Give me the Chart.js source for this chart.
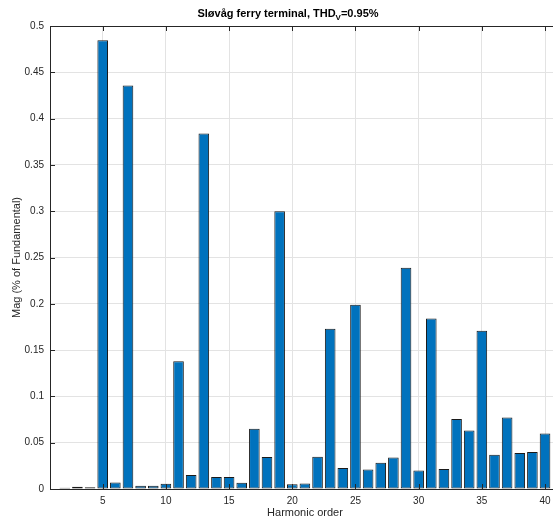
<!DOCTYPE html>
<html>
<head>
<meta charset="utf-8">
<title>Sløvåg ferry terminal</title>
<script src="https://cdn.jsdelivr.net/npm/chart.js@4/dist/chart.umd.min.js"></script>
<style>
  html, body { margin: 0; padding: 0; background: #fff; overflow: hidden; }
  #wrap { width: 553px; height: 524px; }
</style>
</head>
<body>
<div id="wrap"><canvas id="graficoHarm" width="553" height="524"></canvas></div>
<script>
// harmonic orders 2..40 and magnitude in % of fundamental
const ordens = [2, 3, 4, 5, 6, 7, 8, 9, 10, 11, 12, 13, 14, 15, 16, 17, 18, 19, 20, 21,
  22, 23, 24, 25, 26, 27, 28, 29, 30, 31, 32, 33, 34, 35, 36, 37, 38, 39, 40];
const magnitudes = [0.0014, 0.0025, 0.002, 0.4847, 0.0071, 0.4358, 0.0036, 0.0036, 0.0057, 0.138,
  0.0151, 0.384, 0.0129, 0.0129, 0.0068, 0.065, 0.0345, 0.300, 0.005, 0.006,
  0.0348, 0.173, 0.0227, 0.199, 0.0211, 0.0284, 0.0341, 0.239, 0.0201, 0.184,
  0.0216, 0.0755, 0.0632, 0.171, 0.037, 0.0772, 0.0388, 0.0399, 0.060];
const ticksX = [5, 10, 15, 20, 25, 30, 35, 40];
const ticksY = [0, 0.05, 0.1, 0.15, 0.2, 0.25, 0.3, 0.35, 0.4, 0.45, 0.5];

const titulo = "Sløvåg ferry terminal, THD";
const tituloSub = "V";
const tituloFim = "=0.95%";
const rotuloX = "Harmonic order";
const rotuloY = "Mag (% of Fundamental)";

const corEixo = '#262626';
const fonte = '"Liberation Sans", Arial, Helvetica, sans-serif';

// axis box, inward ticks and the text around the axes (MATLAB look)
const eixosMatlab = {
  id: 'eixosMatlab',
  afterDatasetsDraw(chart) {
    const { ctx, chartArea: a, scales } = chart;
    const tam = 5;
    ctx.save();
    ctx.strokeStyle = corEixo;
    ctx.lineWidth = 1;
    ctx.beginPath();
    // box lines: left, bottom, top
    ctx.moveTo(a.left + 0.5, a.top + 0.5);
    ctx.lineTo(a.left + 0.5, a.bottom + 0.5);
    ctx.lineTo(a.right, a.bottom + 0.5);
    ctx.moveTo(a.left + 0.5, a.top + 0.5);
    ctx.lineTo(a.right, a.top + 0.5);
    ticksX.forEach(v => {
      const px = Math.round(scales.x.getPixelForValue(v)) + 0.5;
      ctx.moveTo(px, a.bottom);
      ctx.lineTo(px, a.bottom - tam);
      ctx.moveTo(px, a.top);
      ctx.lineTo(px, a.top + tam);
    });
    ticksY.forEach(v => {
      const py = Math.round(scales.y.getPixelForValue(v)) + 0.5;
      ctx.moveTo(a.left, py);
      ctx.lineTo(a.left + tam, py);
    });
    ctx.stroke();
    ctx.restore();
  },
  afterDraw(chart) {
    const { ctx, chartArea: a } = chart;
    ctx.save();
    ctx.fillStyle = '#000';
    ctx.textBaseline = 'alphabetic';

    // title with subscript V
    const fTit = 'bold 11px ' + fonte;
    const fSub = 'bold 8px ' + fonte;
    ctx.font = fTit;
    const w1 = ctx.measureText(titulo).width;
    const w3 = ctx.measureText(tituloFim).width;
    ctx.font = fSub;
    const w2 = ctx.measureText(tituloSub).width;
    let x = 288 - (w1 + w2 + w3) / 2;
    const yb = 16.5;
    ctx.font = fTit;
    ctx.fillText(titulo, x, yb);
    x += w1;
    ctx.font = fSub;
    ctx.fillText(tituloSub, x, yb + 3);
    x += w2;
    ctx.font = fTit;
    ctx.fillText(tituloFim, x, yb);

    // axis titles
    ctx.fillStyle = corEixo;
    ctx.font = '11px ' + fonte;
    ctx.textAlign = 'center';
    ctx.textBaseline = 'middle';
    ctx.fillText(rotuloX, 305, 513);
    ctx.translate(17, (a.top + a.bottom) / 2);
    ctx.rotate(-Math.PI / 2);
    ctx.fillText(rotuloY, 0, 0);
    ctx.restore();
  }
};

const ctx = document.getElementById('graficoHarm').getContext('2d');

const chart = new Chart(ctx, {
  type: 'bar',
  data: {
    datasets: [{
      data: ordens.map((o, i) => ({ x: o, y: magnitudes[i] })),
      backgroundColor: '#0072BD',
      borderColor: '#1a1a1a',
      borderWidth: 1,
      borderSkipped: false,
      barPercentage: 0.84,
      categoryPercentage: 1
    }]
  },
  options: {
    responsive: false,
    animation: false,
    layout: { padding: { top: 26, right: 0, left: 0, bottom: 0 } },
    plugins: {
      legend: { display: false },
      title: { display: false },
      tooltip: { enabled: false }
    },
    scales: {
      x: {
        type: 'linear',
        offset: false,
        min: 0.83,
        max: 40.63,
        afterFit(s) {
          s.height = 35;
          s.paddingLeft = 0;
          s.paddingRight = 0;
        },
        afterBuildTicks(s) { s.ticks = ticksX.map(v => ({ value: v })); },
        grid: { color: '#e3e3e3', drawTicks: false, offset: false },
        border: { display: false },
        ticks: {
          padding: 6,
          color: corEixo,
          font: { family: fonte, size: 10 },
          maxRotation: 0
        }
      },
      y: {
        min: 0,
        max: 0.5,
        afterFit(s) { s.width = 50; },
        afterBuildTicks(s) { s.ticks = ticksY.map(v => ({ value: v })); },
        grid: { color: '#e3e3e3', drawTicks: false },
        border: { display: false },
        ticks: {
          padding: 6,
          color: corEixo,
          font: { family: fonte, size: 10 },
          callback: v => String(Number(v.toFixed(2)))
        }
      }
    }
  },
  plugins: [eixosMatlab]
});
</script>
</body>
</html>
